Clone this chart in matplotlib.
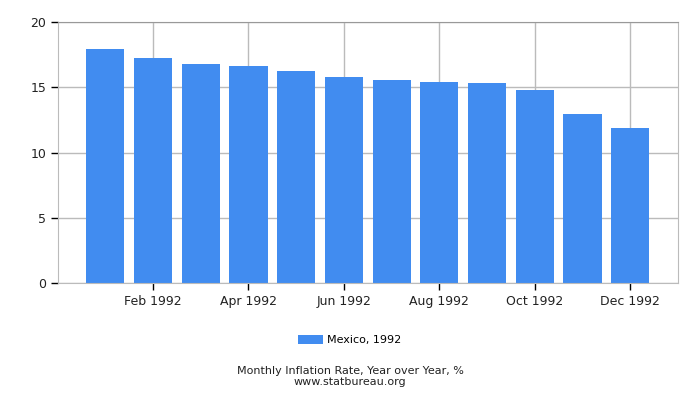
import matplotlib
matplotlib.use("Agg")
import matplotlib.pyplot as plt
import numpy as np

# data
months = ["Jan 1992", "Feb 1992", "Mar 1992", "Apr 1992", "May 1992", "Jun 1992",
          "Jul 1992", "Aug 1992", "Sep 1992", "Oct 1992", "Nov 1992", "Dec 1992"]
rates = [17.95, 17.26, 16.80, 16.65, 16.27, 15.81, 15.58, 15.43, 15.35, 14.81, 12.97, 11.90]
series_label = "Mexico, 1992"
yticks = [0, 5, 10, 15, 20]

bar_color = "#418cf0"
grid_color = "#bbbbbb"

fig = plt.figure(figsize=(7, 4), dpi=100)
ax = fig.add_axes([58/700, 1-283/400, (678-58)/700, (283-22)/400])

x = np.arange(len(months))
ax.bar(x, rates, width=0.8, color=bar_color, label=series_label, zorder=2)

ax.set_xlim(-0.99, 12.0)
ax.set_ylim(0, 20)
ax.set_yticks(yticks)
ax.set_xticks(x[1::2])
ax.set_xticklabels(months[1::2])

ax.grid(True, color=grid_color, lw=1, zorder=0)
ax.set_axisbelow(True)

for s in ["left", "bottom", "right"]:
    ax.spines[s].set_color(grid_color)
ax.spines["top"].set_color("#999999")

ax.tick_params(axis="both", which="major", length=5, width=1, color="black",
               labelsize=9, labelcolor="#222222", direction="out")

fig.legend(loc="center", bbox_to_anchor=(350/700, 1-340/400), frameon=False,
           fontsize=8, handlelength=2.2, handleheight=0.9, handletextpad=0.4)

fig.text(0.5, 1-371/400, "Monthly Inflation Rate, Year over Year, %", ha="center",
         va="center", fontsize=8, color="#222222")
fig.text(0.5, 1-382/400, "www.statbureau.org", ha="center", va="center",
         fontsize=8, color="#222222")

fig.savefig("out.png", dpi=100)
